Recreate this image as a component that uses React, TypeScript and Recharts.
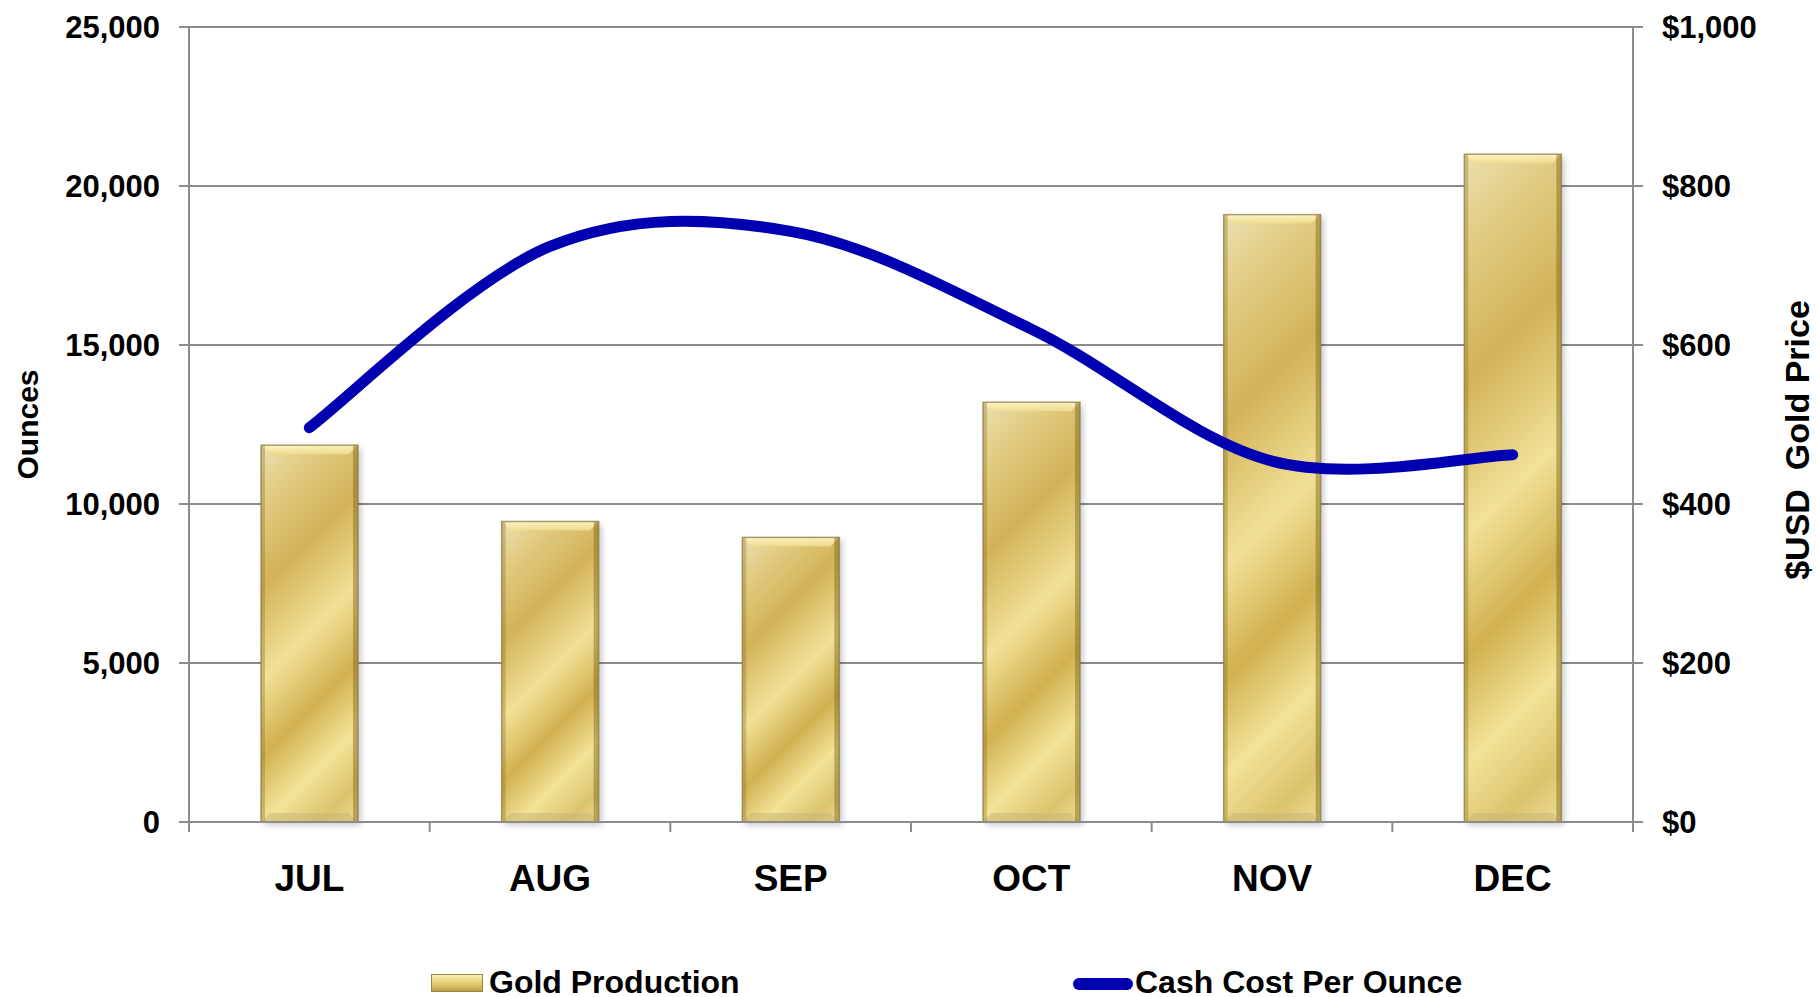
import React from 'react';
import {
  ComposedChart,
  Bar,
  Line,
  XAxis,
  YAxis,
  CartesianGrid,
  Legend,
} from 'recharts';

const months = ['JUL', 'AUG', 'SEP', 'OCT', 'NOV', 'DEC'];
const goldOunces = [11850, 9450, 8950, 13200, 19100, 21000];
const cashCostPerOunce = [496, 724, 743, 620, 454, 462];
const ounceTicks = [0, 5000, 10000, 15000, 20000, 25000];
const priceTicks = [0, 200, 400, 600, 800, 1000];

const data = months.map((month, i) => ({
  month,
  ounces: goldOunces[i],
  cost: cashCostPerOunce[i],
}));

const FONT = "'Liberation Sans', Arial, sans-serif";
const GRID = '#8c8c8c';
const BLUE = '#0000b0';

// Excel-style smoothed line (uniform Catmull-Rom through every point)
const catmullRom = (context: any) => {
  let pts: [number, number][] = [];
  return {
    areaStart() {},
    areaEnd() {},
    lineStart() {
      pts = [];
    },
    lineEnd() {
      if (!pts.length) return;
      context.moveTo(pts[0][0], pts[0][1]);
      for (let i = 0; i < pts.length - 1; i++) {
        const p0 = pts[Math.max(i - 1, 0)];
        const p1 = pts[i];
        const p2 = pts[i + 1];
        const p3 = pts[Math.min(i + 2, pts.length - 1)];
        context.bezierCurveTo(
          p1[0] + (p2[0] - p0[0]) / 6,
          p1[1] + (p2[1] - p0[1]) / 6,
          p2[0] - (p3[0] - p1[0]) / 6,
          p2[1] - (p3[1] - p1[1]) / 6,
          p2[0],
          p2[1]
        );
      }
    },
    point(x: number, y: number) {
      pts.push([x, y]);
    },
  };
};

// Bevelled gold bar with diagonal sheen
function GoldBar(props: any) {
  const { x, y, width: w, height: h, index } = props;
  if (!h || h <= 0) return null;
  const L = (w + h) / 2;
  const b = 9;
  const gid = `gold-${index}`;
  const fid = `shadow-${index}`;
  return (
    <g>
      <defs>
        <linearGradient id={gid} gradientUnits="userSpaceOnUse" x1={x} y1={y} x2={x + L} y2={y + L}>
          <stop offset="0" stopColor="#ebe0b2" />
          <stop offset="0.12" stopColor="#e2cd84" />
          <stop offset="0.3" stopColor="#d3b358" />
          <stop offset="0.5" stopColor="#f1e197" />
          <stop offset="0.66" stopColor="#d2b150" />
          <stop offset="0.8" stopColor="#f2e397" />
          <stop offset="0.92" stopColor="#dcc46e" />
          <stop offset="1" stopColor="#eedd95" />
        </linearGradient>
        <linearGradient id={`${gid}-top`} x1="0" y1="0" x2="0" y2="1">
          <stop offset="0" stopColor="#fff7cc" />
          <stop offset="1" stopColor="#efdc8c" />
        </linearGradient>
        <filter id={fid} x="-20%" y="-20%" width="140%" height="140%">
          <feGaussianBlur stdDeviation="3" />
        </filter>
      </defs>
      <rect x={x + 3} y={y + 3} width={w} height={h} fill="#000" opacity={0.22} filter={`url(#${fid})`} />
      <rect x={x} y={y} width={w} height={h} fill={`url(#${gid})`} />
      <polygon
        points={`${x},${y} ${x + w},${y} ${x + w - b},${y + b} ${x + b},${y + b}`}
        fill={`url(#${gid}-top)`}
        opacity={0.9}
      />
      <polygon
        points={`${x},${y + h} ${x + w},${y + h} ${x + w - b},${y + h - b} ${x + b},${y + h - b}`}
        fill="#c9b878"
        opacity={0.55}
      />
      <rect x={x} y={y} width={4} height={h} fill="#8a7426" opacity={0.35} />
      <rect x={x + w - 5} y={y} width={5} height={h} fill="#7a6418" opacity={0.45} />
      <rect x={x} y={y} width={w} height={h} fill="none" stroke="#8a7a40" strokeOpacity={0.7} strokeWidth={1.5} />
    </g>
  );
}

// Month label, plus tick marks on the category boundaries
function CategoryTick({ x, y, payload, width, visibleTicksCount, index }: any) {
  const half = width / visibleTicksCount / 2;
  const last = index === visibleTicksCount - 1;
  return (
    <g>
      <line x1={x - half} y1={y} x2={x - half} y2={y + 10} stroke={GRID} strokeWidth={2} />
      {last && <line x1={x + half} y1={y} x2={x + half} y2={y + 10} stroke={GRID} strokeWidth={2} />}
      <text x={x} y={y + 69} textAnchor="middle" fontFamily={FONT} fontWeight="bold" fontSize={37} fill="#000">
        {payload.value}
      </text>
    </g>
  );
}

function AxisTitle({ viewBox, value, px, py, size = 30 }: any) {
  const cy = py ?? viewBox.y + viewBox.height / 2;
  return (
    <text
      x={px}
      y={cy}
      transform={`rotate(-90 ${px} ${cy})`}
      textAnchor="middle"
      dominantBaseline="central"
      fontFamily={FONT}
      fontWeight="bold"
      fontSize={size}
      fill="#000"
      style={{ whiteSpace: 'pre' }}
    >
      {value}
    </text>
  );
}

function LegendBox() {
  const text: React.CSSProperties = {
    position: 'absolute',
    top: 26,
    fontFamily: FONT,
    fontWeight: 'bold',
    fontSize: 32,
    lineHeight: '32px',
    color: '#000',
    whiteSpace: 'nowrap',
  };
  return (
    <div style={{ position: 'relative', width: 1816, height: 57 }}>
      <div
        style={{
          position: 'absolute',
          left: 431,
          top: 34,
          width: 52,
          height: 18,
          boxSizing: 'border-box',
          border: '1.5px solid #9a8640',
          background: 'linear-gradient(180deg, #fbf1bc 0%, #e8d47e 40%, #d6b95e 75%, #b89c48 100%)',
        }}
      />
      <span style={{ ...text, left: 489 }}>Gold Production</span>
      <div
        style={{
          position: 'absolute',
          left: 1073,
          top: 38,
          width: 60,
          height: 12,
          borderRadius: 6,
          background: BLUE,
        }}
      />
      <span style={{ ...text, left: 1135 }}>Cash Cost Per Ounce</span>
    </div>
  );
}

export default function App() {
  const tickStyle = { fontFamily: FONT, fontWeight: 'bold', fontSize: 31, fill: '#000' };
  const lineStyle = { stroke: GRID, strokeWidth: 2 };
  return (
    <div style={{ position: 'absolute', left: 0, top: 0, width: 1816, height: 997, background: '#fff' }}>
      <ComposedChart width={1816} height={997} data={data} margin={{ top: 27, right: 0, bottom: 0, left: 0 }}>
        <CartesianGrid yAxisId="left" vertical={false} stroke={GRID} strokeWidth={2} />

        <XAxis
          dataKey="month"
          height={118}
          tickSize={0}
          tickMargin={0}
          tickLine={false}
          axisLine={lineStyle}
          tick={<CategoryTick />}
          interval={0}
        />

        <YAxis
          yAxisId="left"
          width={189}
          domain={[0, 25000]}
          ticks={ounceTicks}
          tickFormatter={(v: number) => v.toLocaleString('en-US')}
          tick={tickStyle}
          tickSize={10}
          tickMargin={19}
          tickLine={lineStyle}
          axisLine={lineStyle}
          label={<AxisTitle value="Ounces" px={27} />}
        />
        <YAxis
          yAxisId="right"
          orientation="right"
          width={183}
          domain={[0, 1000]}
          ticks={priceTicks}
          tickFormatter={(v: number) => '$' + v.toLocaleString('en-US')}
          tick={tickStyle}
          tickSize={10}
          tickMargin={19}
          tickLine={lineStyle}
          axisLine={lineStyle}
          label={<AxisTitle value="$USD  Gold Price" px={1797} py={440} size={34} />}
        />

        <Bar
          yAxisId="left"
          dataKey="ounces"
          name="Gold Production"
          barSize={97}
          shape={(p: any) => <GoldBar {...p} />}
          isAnimationActive={false}
        />
        <Line
          yAxisId="right"
          dataKey="cost"
          name="Cash Cost Per Ounce"
          type={catmullRom as any}
          stroke={BLUE}
          strokeWidth={11}
          strokeLinecap="round"
          dot={false}
          activeDot={false}
          isAnimationActive={false}
        />

        <Legend verticalAlign="bottom" height={57} content={() => <LegendBox />} />
      </ComposedChart>
    </div>
  );
}
